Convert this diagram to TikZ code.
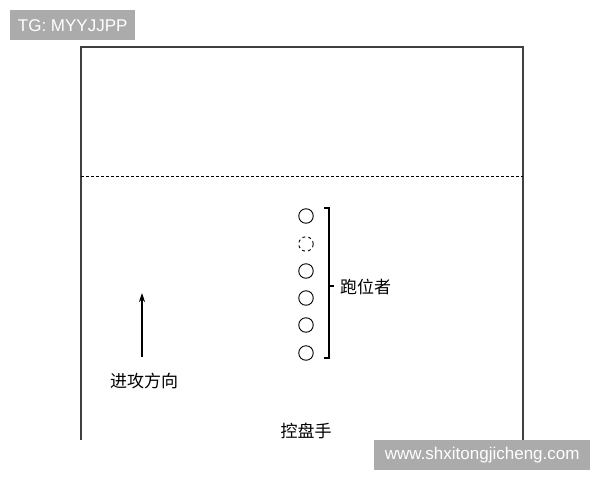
\documentclass[tikz,border=0pt]{standalone}
\usepackage{fontspec}
\newfontfamily\cjk{Noto Sans CJK SC}
\newfontfamily\wm{Liberation Sans}
\usetikzlibrary{arrows.meta}
\begin{document}
\begin{tikzpicture}[x=1pt,y=-1pt,
  court/.style={line width=1.2pt,black!75},
  player/.style={circle,draw,line width=0.9pt,minimum size=14.5pt,inner sep=0pt},
  ghost/.style={player,dashed},
  lbl/.style={font=\cjk\fontsize{17}{17}\selectfont,inner sep=0pt},
  wmbox/.style={fill=black!33,text=white,font=\wm\fontsize{17}{17}\selectfont,inner sep=0pt,anchor=north west}]
\useasboundingbox (0,0) rectangle (600,480);
\fill[white] (0,0) rectangle (600,480);
% court
\coordinate (bl) at (81,440);
\coordinate (tl) at (81,47);
\coordinate (tr) at (523,47);
\coordinate (br) at (523,440);
\draw[court] (bl) -- (tl) -- (tr) -- (br);
\coordinate (dl) at (81,176);
\coordinate (dr) at (523,176);
\draw[line width=0.9pt,dashed,dash pattern=on 3pt off 2pt] (dl) -- (dr);
% players
\node[player] (p1) at (306,216) {};
\node[ghost]  (p2) at (306,244) {};
\node[player] (p3) at (306,271) {};
\node[player] (p4) at (306,298) {};
\node[player] (p5) at (306,325) {};
\node[player] (p6) at (306,353) {};
% bracket
\coordinate (bt) at (329,208);
\coordinate (bb) at (329,358);
\coordinate (bm) at (329,286);
\draw[line width=1.1pt] ([xshift=-5pt]bt) -- (bt) -- (bb) -- ([xshift=-5pt]bb);
\draw[line width=1.1pt] (bm) -- ([xshift=5pt]bm);
\node[lbl,anchor=west] (run) at (340,287) {跑位者};
% arrow
\coordinate (a0) at (142,357);
\coordinate (a1) at (142,293);
\draw[line width=1.1pt,-{Stealth[length=9pt,width=6pt]}] (a0) -- (a1);
\node[lbl] (dir) at (144,381) {进攻方向};
\node[lbl] (pg) at (306,431) {控盘手};
% watermarks
\node[wmbox,minimum width=125pt,minimum height=30pt] (w1) at (10,10) {TG: MYYJJPP};
\node[wmbox,minimum width=216pt,minimum height=30pt] (w2) at (374,440) {www.shxitongjicheng.com};
\end{tikzpicture}
\end{document}
